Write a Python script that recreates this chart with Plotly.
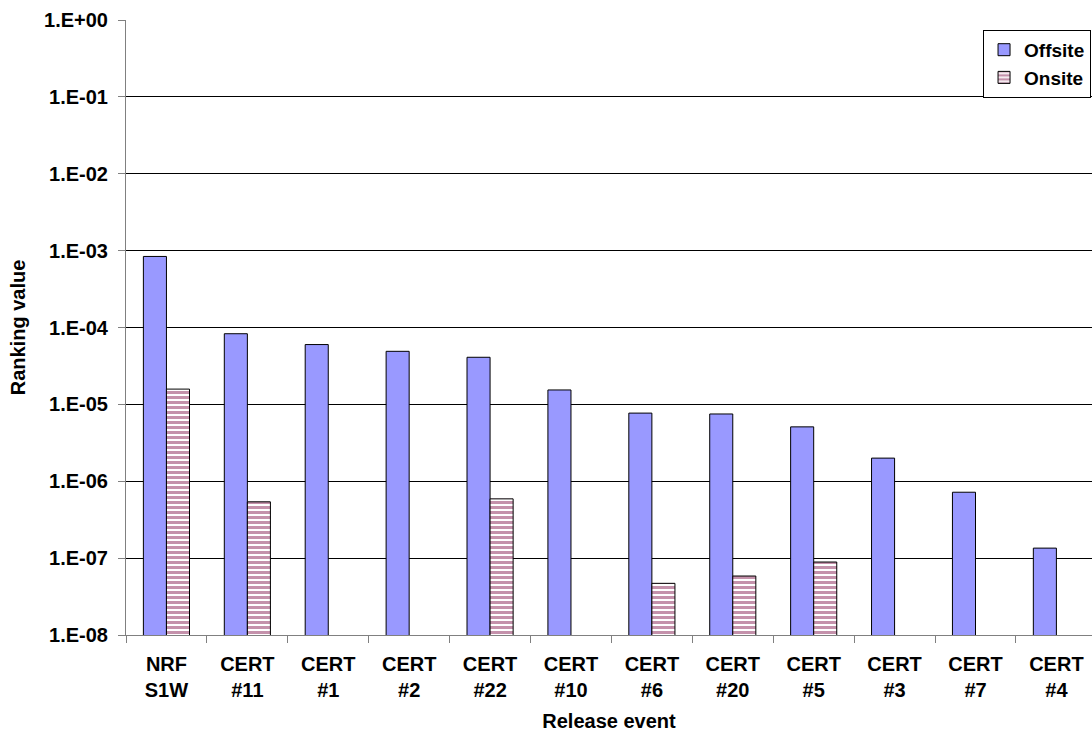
import plotly.graph_objects as go

# Release events and ranking values (log scale)
events = ["NRF<br>S1W", "CERT<br>#11", "CERT<br>#1", "CERT<br>#2", "CERT<br>#22", "CERT<br>#10",
          "CERT<br>#6", "CERT<br>#20", "CERT<br>#5", "CERT<br>#3", "CERT<br>#7", "CERT<br>#4"]
offsite = [8.4e-4, 8.3e-5, 6.0e-5, 4.9e-5, 4.1e-5, 1.54e-5,
           7.7e-6, 7.5e-6, 5.1e-6, 2.0e-6, 7.2e-7, 1.35e-7]
onsite = [1.58e-5, 5.4e-7, None, None, 5.9e-7, None,
          4.7e-8, 5.85e-8, 8.9e-8, None, None, None]

tick_vals = [1, 1e-1, 1e-2, 1e-3, 1e-4, 1e-5, 1e-6, 1e-7, 1e-8]
tick_text = ["1.E+00", "1.E-01", "1.E-02", "1.E-03", "1.E-04", "1.E-05", "1.E-06", "1.E-07", "1.E-08"]

FONT = "Liberation Sans, Arial, sans-serif"

fig = go.Figure()
fig.add_trace(go.Bar(
    x=events, y=offsite, name="Offsite",
    marker=dict(color="#9999FF", line=dict(color="black", width=1)),
))
fig.add_trace(go.Bar(
    x=events, y=onsite, name="Onsite",
    marker=dict(color="white", line=dict(color="black", width=1),
                pattern=dict(shape="-", fgcolor="#8a2458", bgcolor="white",
                             size=5, solidity=0.6, fillmode="overlay")),
))

fig.update_layout(
    width=1092, height=740,
    margin=dict(l=126, r=0, t=20, b=105),
    paper_bgcolor="white", plot_bgcolor="white",
    barmode="group", bargap=0.43, bargroupgap=0,
    font=dict(family=FONT, size=20, color="black"),
    showlegend=True,
    legend=dict(x=0.999, xanchor="right", y=0.984, yanchor="top",
                bordercolor="black", borderwidth=1, bgcolor="white",
                font=dict(family=FONT, size=19, color="black", weight="bold"),
                tracegroupgap=2, itemwidth=30),
    xaxis=dict(
        type="category", range=[-0.5, 11.44],
        showline=True, linecolor="#808080", linewidth=1,
        ticks="outside", tickson="boundaries", ticklen=7, tickcolor="#808080",
        ticklabelstandoff=11,
        tickfont=dict(family=FONT, size=20, color="black", weight="bold"),
        title=dict(text="<b>Release event</b>", font=dict(family=FONT, size=20), standoff=13),
        showgrid=False,
    ),
    yaxis=dict(
        type="log", range=[-8, 0],
        tickvals=tick_vals, ticktext=tick_text,
        showline=True, linecolor="#808080", linewidth=1,
        ticks="outside", ticklen=7, tickcolor="#808080",
        ticklabelstandoff=6,
        tickfont=dict(family=FONT, size=20, color="black", weight="bold"),
        showgrid=True, gridcolor="black", gridwidth=1,
        title=dict(text="<b>Ranking value</b>", font=dict(family=FONT, size=20), standoff=13),
        zeroline=False,
    ),
)

fig.write_html("out.html")
